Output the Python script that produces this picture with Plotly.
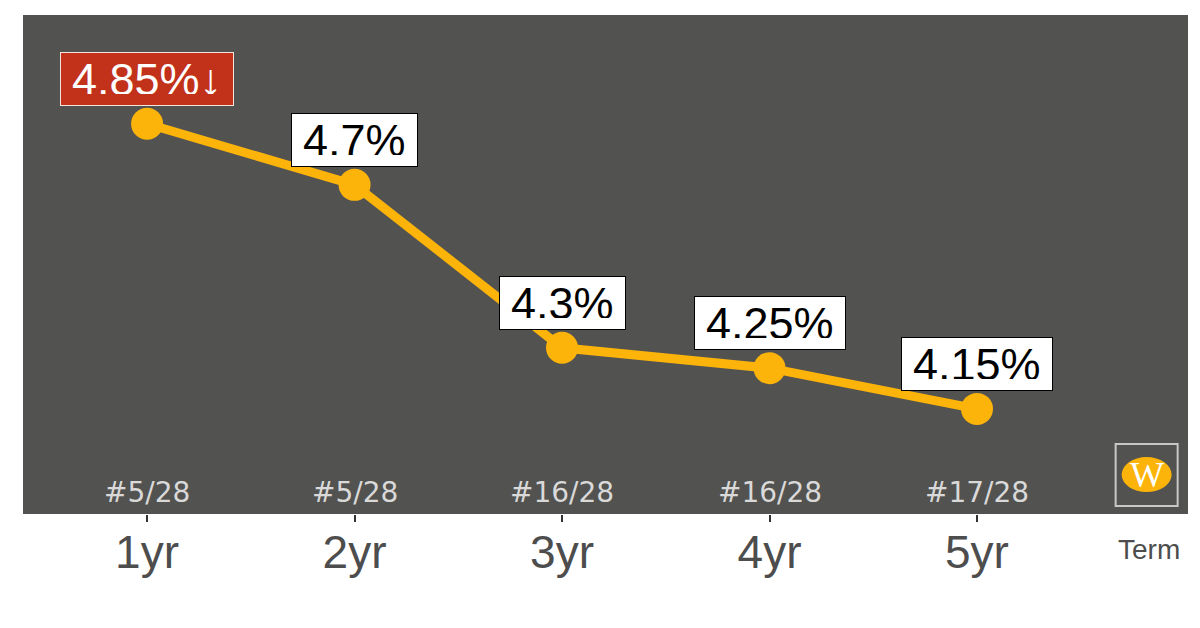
import plotly.graph_objects as go

terms = ["1yr", "2yr", "3yr", "4yr", "5yr"]
rates = [4.85, 4.70, 4.30, 4.25, 4.15]
rate_labels = ["4.85%↓", "4.7%", "4.3%", "4.25%", "4.15%"]
ranks = ["#5/28", "#5/28", "#16/28", "#16/28", "#17/28"]
highlight = [True, False, False, False, False]

LINE = "#FCB40A"
BG = "#525250"

fig = go.Figure()
fig.add_trace(go.Scatter(
    x=list(range(len(terms))), y=rates, mode="lines+markers",
    line=dict(color=LINE, width=9),
    marker=dict(color=LINE, size=32),
    hoverinfo="skip", showlegend=False,
))

annotations = []
for i, (v, lab, hi) in enumerate(zip(rates, rate_labels, highlight)):
    annotations.append(dict(
        x=i, y=v, xref="x", yref="y", text=lab, showarrow=False,
        yanchor="bottom", yshift=18,
        font=dict(family="Liberation Sans", size=45, color="white" if hi else "black"),
        bgcolor="#C2311A" if hi else "white",
        bordercolor="#F2E6DC" if hi else "black", borderwidth=1,
        borderpad=11, height=30,
    ))
for i, r in enumerate(ranks):
    annotations.append(dict(
        x=i, y=0, xref="x", yref="paper", text=r, showarrow=False,
        yanchor="bottom", yshift=3,
        font=dict(family="DejaVu Sans", size=28, color="#D9D9D9"),
    ))
annotations.append(dict(
    x=0.9665, y=0, xref="paper", yref="paper", text="Term", showarrow=False,
    yanchor="top", xanchor="center", yshift=-18,
    font=dict(family="Liberation Sans", size=28, color="#4D4D4D"),
))

shapes = [
    dict(type="rect", xref="paper", yref="paper", xsizemode="pixel", ysizemode="pixel",
         xanchor=0.9645, yanchor=0.078, x0=-31, x1=31, y0=-31, y1=31,
         line=dict(color="#C8C8C8", width=2), fillcolor="rgba(0,0,0,0)"),
    dict(type="circle", xref="paper", yref="paper", xsizemode="pixel", ysizemode="pixel",
         xanchor=0.9645, yanchor=0.078, x0=-25, x1=25, y0=-17, y1=18,
         line=dict(color=LINE, width=0), fillcolor=LINE),
]
annotations.append(dict(
    x=0.9645, y=0.078, xref="paper", yref="paper", text="W", showarrow=False,
    yanchor="middle", xanchor="center",
    font=dict(family="Liberation Serif", size=36, color="white"),
))

fig.update_layout(
    width=1200, height=628,
    margin=dict(l=23, r=12, t=15, b=114),
    paper_bgcolor="white", plot_bgcolor=BG,
    xaxis=dict(
        range=[-0.598, 5.017], tickmode="array",
        tickvals=list(range(len(terms))), ticktext=terms,
        showgrid=False, zeroline=False, showline=False,
        ticks="outside", ticklen=7, tickwidth=2, tickcolor="#333333",
        ticklabelstandoff=-9,
        tickfont=dict(family="Liberation Sans", size=46, color="#4D4D4D"),
    ),
    yaxis=dict(range=[3.892, 5.117], showgrid=False, zeroline=False,
               showticklabels=False, ticks="", showline=False),
    annotations=annotations,
    shapes=shapes,
)

fig.write_html("out.html")
